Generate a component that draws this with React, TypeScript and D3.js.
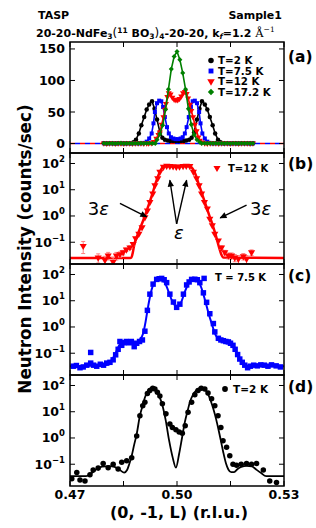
import { useEffect, useRef } from "react";
import * as d3 from "d3";

type Pt = [number, number];

// ---------- axes ----------
const xTicks = [0.47, 0.485, 0.5, 0.515, 0.53];
const xLabelTicks = [0.47, 0.5, 0.53];
const xLabelText = ["0.47", "0.50", "0.53"];
const aYTicks = [0, 50, 100, 150];
const logTicks = [0.1, 1, 10, 100];
const logTickExp = ["\u22121", "0", "1", "2"];

// ---------- panel (a): linear, all temperatures ----------
const aBaseL = [
  0.4795, 0.4803, 0.4811, 0.4819, 0.4827, 0.4835, 0.4843, 0.4851, 0.4859, 0.4867,
  0.4875, 0.4883, 0.4891, 0.4899, 0.4907, 0.4915, 0.4923, 0.4931, 0.4939,
  0.5069, 0.5077, 0.5085, 0.5093, 0.5101, 0.5109, 0.5117, 0.5125, 0.5133, 0.5141,
  0.5149, 0.5157, 0.5165, 0.5173, 0.5181, 0.5189, 0.5197, 0.5205, 0.5213,
];
const aBaseI = [
  0.4, 0.2, 0.5, 0.3, 0.1, 0.4, 0.6, 0.2, 0.3, 0.5, 0.2, 0.4, 0.3, 0.6, 0.2, 0.4, 0.5, 0.3, 0.2,
  0.3, 0.5, 0.2, 0.4, 0.3, 0.6, 0.2, 0.4, 0.3, 0.5, 0.1, 0.4, 0.3, 0.2, 0.5, 0.3, 0.4, 0.2, 0.3,
];
const aBlackL = [
  0.487, 0.4878, 0.4885, 0.4893, 0.49, 0.4908, 0.4915, 0.4922, 0.493, 0.4937, 0.4944, 0.4952,
  0.4959, 0.4966, 0.4974, 0.4981, 0.4989, 0.4996, 0.5004, 0.5011, 0.5019, 0.5026, 0.5034, 0.5041,
  0.5048, 0.5056, 0.5063, 0.507, 0.5078, 0.5085, 0.5092, 0.51, 0.5107, 0.5115, 0.5122, 0.513,
];
const aBlackI = [
  0.5, 2, 6, 16, 29, 42, 54, 62, 67, 55, 38, 18, 9, 6, 5, 4, 4, 4,
  4, 4, 4, 5, 6, 9, 18, 38, 55, 67, 62, 54, 42, 29, 16, 6, 2, 0.5,
];
const aBlueL = [
  0.49, 0.4908, 0.4915, 0.4922, 0.4929, 0.4934, 0.4938, 0.4944, 0.495, 0.4956, 0.4961, 0.4966,
  0.4972, 0.4977, 0.4983, 0.499, 0.4996, 0.5003, 0.501, 0.5016, 0.5022, 0.5027, 0.5033, 0.5039,
  0.5044, 0.505, 0.5056, 0.5062, 0.5066, 0.5071, 0.5078, 0.5085, 0.5092, 0.51,
];
const aBlueI = [
  0.5, 1, 3, 8, 16, 32, 50, 64, 68, 67, 58, 42, 26, 16, 10, 8, 7,
  7, 8, 10, 16, 26, 42, 58, 67, 68, 64, 50, 32, 16, 8, 3, 1, 0.5,
];
const aRedL = [
  0.492, 0.4928, 0.4935, 0.4942, 0.4948, 0.4952, 0.4957, 0.4962, 0.4966, 0.4969, 0.4973, 0.4977,
  0.4982, 0.4987, 0.4992, 0.4997, 0.5002, 0.5007, 0.5012, 0.5017, 0.5022, 0.5027, 0.5031, 0.5036,
  0.504, 0.5045, 0.505, 0.5055, 0.506, 0.5064, 0.507, 0.5078,
];
const aRedI = [
  0.5, 1, 3, 8, 14, 18, 30, 42, 54, 63, 74, 80, 78, 73, 70, 69,
  69, 71, 75, 80, 82, 79, 72, 62, 52, 42, 30, 20, 10, 5, 2, 0.5,
];
const aGreenL = [
  0.4944, 0.4952, 0.496, 0.4968, 0.4976, 0.4984, 0.4992, 0.5, 0.5008, 0.5016, 0.5024, 0.5032,
  0.504, 0.5048, 0.5056, 0.5064,
];
const aGreenI = [6, 15, 29, 54, 86, 118, 138, 146, 133, 112, 86, 55, 30, 14, 6, 2];
const aLegend = ["T=2 K", "T=7.5 K", "T=12 K", "T=17.2 K"];

// ---------- panel (b): T = 12 K, log ----------
const bRedL = [
  0.4737, 0.4779, 0.4798, 0.4807, 0.4821, 0.483, 0.484, 0.4849, 0.4858, 0.4868, 0.4877, 0.4884,
  0.4893, 0.4902, 0.491, 0.4917, 0.4924, 0.4932, 0.4938, 0.4946, 0.4952, 0.4962, 0.4971, 0.498,
  0.4989, 0.4998, 0.5007, 0.5017, 0.5026, 0.5036, 0.5046, 0.5055, 0.5062, 0.5069, 0.5077, 0.5085,
  0.5092, 0.5099, 0.5106, 0.5116, 0.5125, 0.5134, 0.5144, 0.5153, 0.5162, 0.5172, 0.5186, 0.5195,
  0.5209,
];
const bRedI = [
  0.072, 0.026, 0.021, 0.031, 0.018, 0.031, 0.035, 0.041, 0.052, 0.063, 0.085, 0.141,
  0.21, 0.37, 0.89, 1.62, 3.4, 7.1, 14.8, 27, 48, 74, 81, 79,
  78, 74, 76, 79, 81, 80, 48, 27, 14.8, 7.1, 3.4, 1.9,
  0.78, 0.44, 0.21, 0.115, 0.063, 0.041, 0.031, 0.031, 0.026, 0.023, 0.029, 0.023,
  0.041,
];
const bRedErr = [
  0.035, 0.01, 0.008, 0.01, 0.008, 0.01, 0.008, 0.008, 0.008, 0.01, 0.012,
  0, 0, 0, 0, 0, 0, 0, 0, 0, 0,
  0, 0, 0, 0, 0, 0, 0, 0, 0, 0,
  0, 0, 0, 0, 0, 0, 0, 0, 0,
  0.01, 0.008, 0.008, 0.008, 0.008, 0.008, 0.008, 0.008, 0.01,
];
const bFitL = [
  0.47, 0.4865, 0.4872, 0.4876, 0.488, 0.489, 0.49, 0.491, 0.492, 0.493, 0.494, 0.495, 0.4958,
  0.4966, 0.4985, 0.5, 0.502, 0.5036, 0.5044, 0.5052, 0.506, 0.507, 0.508, 0.509, 0.51, 0.511,
  0.5118, 0.5124, 0.513, 0.53,
];
const bFitI = [
  0.025, 0.025, 0.026, 0.04, 0.079, 0.2, 0.447, 1.0, 2.5, 6.3, 17.8, 42, 68,
  81, 79, 76, 81, 79, 63, 38, 18, 7.1, 2.8, 1.1, 0.45, 0.16,
  0.063, 0.035, 0.026, 0.025,
];

// ---------- panel (c): T = 7.5 K, log ----------
const cBlueL = [
  0.4709, 0.4718, 0.4728, 0.4737, 0.4747, 0.4758, 0.4758, 0.4766, 0.4775, 0.4785, 0.4794, 0.4803,
  0.4812, 0.4821, 0.4828, 0.4835, 0.484, 0.4845, 0.4852, 0.4858, 0.4866, 0.4872, 0.488, 0.4887,
  0.4895, 0.4903, 0.491, 0.4917, 0.4924, 0.4933, 0.4943, 0.495, 0.4957, 0.4964, 0.4971, 0.498,
  0.499, 0.4999, 0.5008, 0.5018, 0.5027, 0.5034, 0.5041, 0.505, 0.5057, 0.5064, 0.5076, 0.5074,
  0.5083, 0.5092, 0.5102, 0.5106, 0.5116, 0.5123, 0.513, 0.5137, 0.5144, 0.515, 0.5157, 0.5163,
  0.517, 0.5176, 0.5183, 0.519, 0.5198, 0.5206, 0.5215, 0.5225, 0.5235, 0.5245, 0.5255, 0.5265,
  0.5278, 0.529,
];
const cBlueI = [
  0.032, 0.034, 0.028, 0.03, 0.035, 0.042, 0.107, 0.035, 0.032, 0.038, 0.035, 0.042,
  0.045, 0.056, 0.087, 0.141, 0.28, 0.2, 0.25, 0.28, 0.25, 0.28, 0.178, 0.24,
  0.28, 0.32, 0.69, 4.3, 17.8, 43, 65, 69, 71, 63, 49, 17.8,
  8.9, 5.6, 7.4, 17.8, 40, 52, 65, 66, 63, 49, 71, 20,
  8.7, 3.2, 1.35, 0.65, 0.37, 0.32, 0.3, 0.28, 0.27, 0.24, 0.2, 0.141,
  0.089, 0.06, 0.045, 0.035, 0.028, 0.032, 0.035, 0.033, 0.036, 0.035, 0.032, 0.036,
  0.033, 0.03,
];
const cFitL = [
  0.47, 0.48, 0.4815, 0.4828, 0.4838, 0.4848, 0.4865, 0.488, 0.4895, 0.4905, 0.4912, 0.4918,
  0.4925, 0.4933, 0.4943, 0.4955, 0.4965, 0.4975, 0.4988, 0.4999, 0.501, 0.5022, 0.5035, 0.5046,
  0.5058, 0.5068, 0.5078, 0.5088, 0.5098, 0.5108, 0.512, 0.5135, 0.515, 0.5162, 0.5172, 0.5182,
  0.5195, 0.53,
];
const cFitI = [
  0.032, 0.035, 0.05, 0.1, 0.2, 0.28, 0.28, 0.25, 0.32, 0.56, 1.6, 5,
  15.8, 40, 63, 71, 52, 25, 8.9, 6, 7.9, 22, 52, 68,
  60, 32, 11.2, 3.5, 1.26, 0.5, 0.316, 0.28, 0.224, 0.141, 0.079, 0.045,
  0.034, 0.032,
];

// ---------- panel (d): T = 2 K, log ----------
const dBlackL = [
  0.4705, 0.4719, 0.4728, 0.4742, 0.4756, 0.4765, 0.4779, 0.4793, 0.4807, 0.4821, 0.4835, 0.4845,
  0.4859, 0.4873, 0.4887, 0.4896, 0.4904, 0.491, 0.4917, 0.4924, 0.4932, 0.4938, 0.4945, 0.4952,
  0.4959, 0.4969, 0.498, 0.4987, 0.4997, 0.5006, 0.5015, 0.5023, 0.5031, 0.5041, 0.505, 0.5059,
  0.5068, 0.5078, 0.5087, 0.5097, 0.5106, 0.5115, 0.5123, 0.5129, 0.5139, 0.5148, 0.5157, 0.5167,
  0.518, 0.5195, 0.5209, 0.5223, 0.5242, 0.526, 0.5279,
];
const dBlackI = [
  0.028, 0.048, 0.025, 0.023, 0.04, 0.06, 0.071, 0.107, 0.074, 0.1, 0.066, 0.12,
  0.135, 0.178, 1.2, 7.1, 17, 23, 50, 65, 79, 74, 55, 40,
  20, 8.3, 3.4, 2.5, 2.04, 1.7, 1.5, 2.9, 9.5, 23, 44, 65,
  79, 74, 52, 31, 17, 7.1, 2.5, 0.79, 0.44, 0.21, 0.1, 0.091,
  0.1, 0.107, 0.1, 0.107, 0.06, 0.023, 0.02,
];
const dFitL = [
  0.47, 0.4745, 0.476, 0.4775, 0.479, 0.481, 0.4825, 0.484, 0.4852, 0.486, 0.4866, 0.4873,
  0.488, 0.4887, 0.4896, 0.4903, 0.491, 0.492, 0.4932, 0.4942, 0.495, 0.496, 0.4968, 0.4978,
  0.4988, 0.4997, 0.5006, 0.5014, 0.5022, 0.503, 0.5036, 0.5045, 0.5055, 0.5068, 0.5078, 0.5087,
  0.5095, 0.5102, 0.511, 0.5116, 0.5123, 0.513, 0.5137, 0.5144, 0.5152, 0.516, 0.517, 0.518,
  0.5195, 0.521, 0.5222, 0.5235, 0.525, 0.53,
];
const dFitI = [
  0.035, 0.035, 0.045, 0.066, 0.081, 0.085, 0.079, 0.06, 0.048, 0.06, 0.1, 0.21,
  0.56, 1.41, 7.1, 15.8, 35, 68, 85, 66, 40, 15.8, 5, 0.79,
  0.178, 0.074, 0.25, 1.0, 4.0, 11.2, 23, 45, 66, 85, 71, 47,
  25, 12.6, 5, 2.2, 0.79, 0.275, 0.112, 0.063, 0.05, 0.05, 0.066, 0.079,
  0.087, 0.083, 0.063, 0.047, 0.035, 0.035,
];

const zip = (xs: number[], ys: number[]): Pt[] => xs.map((v, i) => [v, ys[i]] as Pt);

// baseline points of panel (a) that fall outside a series' peak scan
function withBase(L: number[], I: number[]): Pt[] {
  const lo = L[0];
  const hi = L[L.length - 1];
  const base = zip(aBaseL, aBaseI).filter(([l]) => l < lo || l > hi);
  return [...base, ...zip(L, I)].sort((p, q) => p[0] - q[0]);
}

const FONT = "'DejaVu Sans', sans-serif";
const RED = "#ff0000";
const BLUE = "#0000ff";
const GREEN = "#008000";

export default function App() {
  const svgRef = useRef<SVGSVGElement | null>(null);

  useEffect(() => {
    const svg = d3.select(svgRef.current);
    svg.selectAll("*").remove();

    const left = 70;
    const right = 284;
    const tops = [42, 153, 264, 375];
    const PH = 111;

    const x = d3.scaleLinear().domain([0.47, 0.53]).range([left, right]);

    const defs = svg.append("defs");
    defs.append("marker")
      .attr("id", "ah")
      .attr("viewBox", "0 0 10 10")
      .attr("refX", 9)
      .attr("refY", 5)
      .attr("markerWidth", 8)
      .attr("markerHeight", 7)
      .attr("markerUnits", "userSpaceOnUse")
      .attr("orient", "auto")
      .append("path")
      .attr("d", "M0,0.5 L10,5 L0,9.5 z")
      .attr("fill", "#000");

    const shapes: Record<string, { type: d3.SymbolType; rot: number }> = {
      circle: { type: d3.symbolCircle, rot: 0 },
      square: { type: d3.symbolSquare, rot: 0 },
      tri: { type: d3.symbolTriangle, rot: 180 },
      diamond: { type: d3.symbolSquare, rot: 45 },
    };

    const drawPoints = (g: any, pts: Pt[], y: any, shape: string, size: number, color: string) => {
      const s = shapes[shape];
      const d = d3.symbol().type(s.type).size(size)() as string;
      g.append("g").selectAll("path").data(pts).join("path")
        .attr("d", d)
        .attr("transform", (p: Pt) => `translate(${x(p[0])},${y(p[1])}) rotate(${s.rot})`)
        .attr("fill", color);
    };

    const drawLine = (g: any, pts: Pt[], y: any, color: string, w: number, smooth: boolean, dash?: string) => {
      const line = d3.line<Pt>()
        .x((p) => x(p[0]))
        .y((p) => y(p[1]))
        .curve(smooth ? d3.curveMonotoneX : d3.curveLinear);
      g.append("path")
        .attr("d", line(pts))
        .attr("fill", "none")
        .attr("stroke", color)
        .attr("stroke-width", w)
        .attr("stroke-linejoin", "round")
        .attr("stroke-dasharray", dash ?? null);
    };

    // panel frame, ticks, tick labels; returns a clipped group for marks
    const makePanel = (i: number, y: any, ticks: number[], isLog: boolean) => {
      const top = tops[i];
      const bottom = top + PH;
      defs.append("clipPath").attr("id", `clip${i}`)
        .append("rect").attr("x", left).attr("y", top).attr("width", right - left).attr("height", PH);
      const marks = svg.append("g").attr("clip-path", `url(#clip${i})`);
      const axes = svg.append("g");

      // x ticks (top & bottom, inward)
      xTicks.forEach((t) => {
        axes.append("line").attr("x1", x(t)).attr("x2", x(t)).attr("y1", bottom).attr("y2", bottom - 5)
          .attr("stroke", "#000").attr("stroke-width", 1);
        axes.append("line").attr("x1", x(t)).attr("x2", x(t)).attr("y1", top).attr("y2", top + 5)
          .attr("stroke", "#000").attr("stroke-width", 1);
      });
      // y ticks (left & right, inward)
      ticks.forEach((t, k) => {
        const yy = y(t);
        axes.append("line").attr("x1", left).attr("x2", left + 5).attr("y1", yy).attr("y2", yy)
          .attr("stroke", "#000").attr("stroke-width", 1);
        axes.append("line").attr("x1", right).attr("x2", right - 5).attr("y1", yy).attr("y2", yy)
          .attr("stroke", "#000").attr("stroke-width", 1);
        const txt = axes.append("text")
          .attr("x", 65).attr("y", yy + 4.5)
          .attr("text-anchor", "end")
          .attr("font-family", FONT).attr("font-weight", "bold").attr("font-size", 12.5);
        if (isLog) {
          txt.append("tspan").text("10");
          txt.append("tspan").attr("dy", -6).attr("font-size", 8.5).text(logTickExp[k]);
        } else {
          txt.text(String(t));
        }
      });
      return { marks, axes, top, bottom };
    };

    const frame = (top: number) => {
      svg.append("rect").attr("x", left).attr("y", top).attr("width", right - left).attr("height", PH)
        .attr("fill", "none").attr("stroke", "#000").attr("stroke-width", 1.5);
    };

    const panelLabel = (txt: string, yb: number) => {
      svg.append("text").attr("x", 288).attr("y", yb)
        .attr("font-family", FONT).attr("font-weight", "bold").attr("font-size", 15.5).text(txt);
    };

    const legendText = (tx: number, ty: number, txt: string, size: number) => {
      svg.append("text").attr("x", tx).attr("y", ty)
        .attr("font-family", FONT).attr("font-weight", "bold").attr("font-size", size).text(txt);
    };

    const legendMark = (cx: number, cy: number, shape: string, size: number, color: string) => {
      const s = shapes[shape];
      svg.append("path").attr("d", d3.symbol().type(s.type).size(size)() as string)
        .attr("transform", `translate(${cx},${cy}) rotate(${s.rot})`).attr("fill", color);
    };

    const logDomain = [Math.pow(10, -1.83), Math.pow(10, 2.4)];

    // ---------- (a) ----------
    {
      const top = tops[0];
      const y = d3.scaleLinear().domain([-15, 161]).range([top + PH, top]);
      const { marks } = makePanel(0, y, aYTicks, false);
      const flat: Pt[] = [[0.47, 0], [0.53, 0]];
      drawLine(marks, flat, y, RED, 1.5, false, "5,5");
      drawLine(marks, flat, y, BLUE, 1.5, false, "0,5,5,0");
      const series: [Pt[], string, string, number][] = [
        [withBase(aBlackL, aBlackI), "#000", "circle", 16],
        [withBase(aBlueL, aBlueI), BLUE, "square", 16],
        [withBase(aRedL, aRedI), RED, "tri", 16],
        [withBase(aGreenL, aGreenI), GREEN, "diamond", 13],
      ];
      series.forEach(([pts, color, shape, size]) => {
        drawLine(marks, pts, y, color, 1.6, false);
        drawPoints(marks, pts, y, shape, size, color);
      });
      frame(top);
      const ly = [60.5, 71, 81.5, 92];
      const lshape = ["circle", "square", "tri", "diamond"];
      const lcol = ["#000", BLUE, RED, GREEN];
      aLegend.forEach((t, k) => {
        legendMark(211, ly[k], lshape[k], lshape[k] === "diamond" ? 20 : 24, lcol[k]);
        legendText(218, ly[k] + 3.8, t, 10.3);
      });
      panelLabel("(a)", 62);
    }

    // ---------- (b) ----------
    {
      const top = tops[1];
      const y = d3.scaleLog().domain(logDomain).range([top + PH, top]);
      const { marks } = makePanel(1, y, logTicks, true);
      drawLine(marks, zip(bFitL, bFitI), y, RED, 2.5, true);
      // error bars
      bRedL.forEach((l, k) => {
        const e = bRedErr[k] ?? 0;
        if (!e) return;
        const lo = Math.max(bRedI[k] - e, logDomain[0]);
        marks.append("line").attr("x1", x(l)).attr("x2", x(l))
          .attr("y1", y(lo)).attr("y2", y(bRedI[k] + e))
          .attr("stroke", "#ff8080").attr("stroke-width", 1);
        [lo, bRedI[k] + e].forEach((v) => {
          marks.append("line").attr("x1", x(l) - 2).attr("x2", x(l) + 2)
            .attr("y1", y(v)).attr("y2", y(v)).attr("stroke", "#ff8080").attr("stroke-width", 1);
        });
      });
      drawPoints(marks, zip(bRedL, bRedI), y, "tri", 22, RED);
      frame(top);
      legendMark(217, 168, "tri", 22, RED);
      legendText(228, 172, "T=12 K", 10);
      panelLabel("(b)", 169);

      // annotations (data coordinates)
      const arrows: [Pt, Pt][] = [
        [[0.484, 3.0], [0.4915, 0.93]],
        [[0.5195, 2.6], [0.5121, 0.85]],
        [[0.4999, 0.5], [0.498, 23]],
        [[0.4999, 0.5], [0.5027, 23]],
      ];
      arrows.forEach(([a, b]) => {
        svg.append("line")
          .attr("x1", x(a[0])).attr("y1", y(a[1]))
          .attr("x2", x(b[0])).attr("y2", y(b[1]))
          .attr("stroke", "#000").attr("stroke-width", 1.4)
          .attr("marker-end", "url(#ah)");
      });
      const eps: [number, number, string][] = [[0.475, 1.1, "start"], [0.5205, 1.1, "start"]];
      eps.forEach(([l, v, anchor]) => {
        const t = svg.append("text").attr("x", x(l)).attr("y", y(v))
          .attr("text-anchor", anchor).attr("font-family", FONT).attr("font-size", 18);
        t.append("tspan").text("3");
        t.append("tspan").attr("font-style", "italic").text("\u03b5");
      });
      svg.append("text").attr("x", x(0.5005)).attr("y", y(0.13))
        .attr("text-anchor", "middle").attr("font-family", FONT).attr("font-size", 18)
        .attr("font-style", "italic").text("\u03b5");
    }

    // ---------- (c) ----------
    {
      const top = tops[2];
      const y = d3.scaleLog().domain(logDomain).range([top + PH, top]);
      const { marks } = makePanel(2, y, logTicks, true);
      drawLine(marks, zip(cFitL, cFitI), y, BLUE, 2, true);
      drawPoints(marks, zip(cBlueL, cBlueI), y, "square", 30, BLUE);
      frame(top);
      legendText(215, 281, "T = 7.5 K", 10);
      panelLabel("(c)", 281);
    }

    // ---------- (d) ----------
    {
      const top = tops[3];
      const y = d3.scaleLog().domain(logDomain).range([top + PH, top]);
      const { marks } = makePanel(3, y, logTicks, true);
      drawLine(marks, zip(dFitL, dFitI), y, "#000", 1.8, true);
      drawPoints(marks, zip(dBlackL, dBlackI), y, "circle", 24, "#000");
      frame(top);
      legendMark(225, 389, "circle", 26, "#000");
      legendText(233, 392.5, "T=2 K", 10.5);
      panelLabel("(d)", 392);

      // x tick labels
      xLabelTicks.forEach((t, k) => {
        svg.append("text").attr("x", x(t)).attr("y", 499)
          .attr("text-anchor", "middle").attr("font-family", FONT).attr("font-weight", "bold")
          .attr("font-size", 12.5).text(xLabelText[k]);
      });
    }

    // axis titles
    svg.append("text").attr("x", 179).attr("y", 517.5)
      .attr("text-anchor", "middle").attr("font-family", FONT).attr("font-weight", "bold")
      .attr("font-size", 16).text("(0, -1, L) (r.l.u.)");
    svg.append("text").attr("transform", "translate(31,249) rotate(-90)")
      .attr("text-anchor", "middle").attr("font-family", FONT).attr("font-weight", "bold")
      .attr("font-size", 16.8).text("Neutron Intensity (counts/sec)");

    // header
    svg.append("text").attr("x", 38).attr("y", 19.3)
      .attr("font-family", FONT).attr("font-weight", "bold").attr("font-size", 11).text("TASP");
    svg.append("text").attr("x", 282).attr("y", 19.3).attr("text-anchor", "end")
      .attr("font-family", FONT).attr("font-weight", "bold").attr("font-size", 11).text("Sample1");

    const segs: { t: string; shift: number; size: number; weight?: string; style?: string; family?: string }[] = [
      { t: "20-20-NdFe", shift: 0, size: 11 },
      { t: "3", shift: 2.5, size: 7.5 },
      { t: "(", shift: 0, size: 12, weight: "normal" },
      { t: "11", shift: -4, size: 7.5 },
      { t: " BO", shift: 0, size: 11 },
      { t: "3", shift: 2.5, size: 7.5 },
      { t: ")", shift: 0, size: 12, weight: "normal" },
      { t: "4", shift: 2.5, size: 7.5 },
      { t: "-20-20, k", shift: 0, size: 11 },
      { t: "f", shift: 2.5, size: 7.5, style: "italic" },
      { t: "=1.2 ", shift: 0, size: 11 },
      { t: "\u00c5", shift: 0, size: 11.5, weight: "normal", family: "'DejaVu Serif', serif" },
      { t: "\u22121", shift: -4.5, size: 7.5, weight: "normal", family: "'DejaVu Serif', serif" },
    ];
    const title = svg.append("text").attr("x", 36).attr("y", 36.5)
      .attr("font-family", FONT).attr("font-weight", "bold");
    let prev = 0;
    segs.forEach((s) => {
      title.append("tspan")
        .attr("dy", s.shift - prev)
        .attr("font-size", s.size)
        .attr("font-weight", s.weight ?? "bold")
        .attr("font-style", s.style ?? "normal")
        .attr("font-family", s.family ?? FONT)
        .text(s.t);
      prev = s.shift;
    });
  }, []);

  return (
    <svg
      ref={svgRef}
      width={316}
      height={528}
      style={{ position: "absolute", left: 0, top: 0, background: "#fff" }}
    />
  );
}
